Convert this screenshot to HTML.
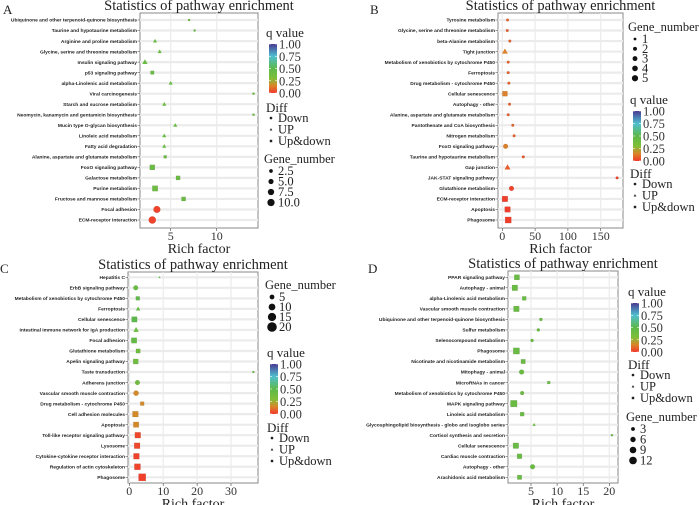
<!DOCTYPE html>
<html><head><meta charset="utf-8"><style>
html,body{margin:0;padding:0;background:#fff;width:700px;height:505px;overflow:hidden}
svg text{font-family:"Liberation Serif",serif}
.yl{font-family:"Liberation Sans",sans-serif;font-weight:bold;font-size:4.9px;fill:#222}
</style></head><body>
<svg id="chart" width="700" height="505" viewBox="0 0 700 505">
<defs>
<linearGradient id="qgrad" x1="0" y1="1" x2="0" y2="0">
<stop offset="0" stop-color="#f2392c"/><stop offset="0.15" stop-color="#d9862a"/><stop offset="0.3" stop-color="#7fbf3a"/><stop offset="0.5" stop-color="#5cb84a"/><stop offset="0.75" stop-color="#4fc0cf"/><stop offset="1" stop-color="#4a3a92"/>
</linearGradient>
</defs>
</svg>
<script>
// Panel A data
const aNames=["Ubiquinone and other terpenoid-quinone biosynthesis","Taurine and hypotaurine metabolism","Arginine and proline metabolism","Glycine, serine and threonine metabolism","Insulin signaling pathway","p53 signaling pathway","alpha-Linolenic acid metabolism","Viral carcinogenesis","Starch and sucrose metabolism","Neomycin, kanamycin and gentamicin biosynthesis","Mucin type O-glycan biosynthesis","Linoleic acid metabolism","Fatty acid degradation","Alanine, aspartate and glutamate metabolism","FoxO signaling pathway","Galactose metabolism","Purine metabolism","Fructose and mannose metabolism","Focal adhesion","ECM-receptor interaction"];
const aRich=[7.0,7.6,3.3,3.8,2.2,3.0,5.0,14.0,4.3,14.0,5.5,4.3,4.3,4.4,3.0,5.8,3.3,6.4,3.5,3.0];
const aGenes=[1,1,3,3,5,3,3,1,3,1,3,3,3,2,6,4,7,4,9,10];
const aQ=[0.4,0.4,0.42,0.42,0.42,0.42,0.42,0.4,0.42,0.4,0.42,0.42,0.42,0.42,0.42,0.42,0.4,0.42,0.02,0.02];
const aDiff=["D","D","U","U","U","B","U","D","U","D","U","U","U","B","B","B","B","B","D","D"];
const aTicks=[5,10];
const aGeneLegend=["2.5","5.0","7.5","10.0"];
// Panel B data
const bNames=["Tyrosine metabolism","Glycine, serine and threonine metabolism","beta-Alanine metabolism","Tight junction","Metabolism of xenobiotics by cytochrome P450","Ferroptosis","Drug metabolism - cytochrome P450","Cellular senescence","Autophagy - other","Alanine, aspartate and glutamate metabolism","Pantothenate and CoA biosynthesis","Nitrogen metabolism","FoxO signaling pathway","Taurine and hypotaurine metabolism","Gap junction","JAK-STAT signaling pathway","Glutathione metabolism","ECM-receptor interaction","Apoptosis","Phagosome"];
const bRich=[8,7.6,11.5,4,9,9,10,4,11,9,16,18,5,32,8,175,14,4,8,9];
const bGenes=[1,1,1,4,1,1,1,4,1,1,1,1,3,1,4,1,3,5,5,6];
const bQ=[0.08,0.08,0.08,0.14,0.08,0.08,0.08,0.14,0.08,0.08,0.08,0.08,0.14,0.05,0.07,0.02,0.02,0.01,0.01,0.01];
const bDiff=["D","D","D","U","D","D","D","B","D","D","D","D","D","D","U","D","D","B","B","B"];
const bTicks=[0,50,100,150];
const bGeneLegend=["1","2","3","4","5"];
// Panel C data
const cNames=["Hepatitis C","ErbB signaling pathway","Metabolism of xenobiotics by cytochrome P450","Ferroptosis","Cellular senescence","Intestinal immune network for IgA production","Focal adhesion","Glutathione metabolism","Apelin signaling pathway","Taste transduction","Adherens junction","Vascular smooth muscle contraction","Drug metabolism - cytochrome P450","Cell adhesion molecules","Apoptosis","Toll-like receptor signaling pathway","Lysosome","Cytokine-cytokine receptor interaction","Regulation of actin cytoskeleton","Phagosome"];
const cRich=[8.9,1.9,2.5,2.6,1.5,2.0,1.4,2.6,1.9,36.6,2.4,2.0,3.8,1.8,2.0,2.5,2.3,2.1,2.4,3.8];
const cGenes=[1,5,4,4,8,6,8,5,7,1,5,6,4,9,8,9,9,9,10,14];
const cQ=[0.45,0.42,0.48,0.45,0.5,0.4,0.45,0.38,0.38,0.4,0.38,0.16,0.16,0.16,0.16,0.03,0.03,0.02,0.02,0.01];
const cDiff=["U","D","B","U","B","U","B","B","B","D","D","D","B","B","B","B","B","B","B","B"];
const cTicks=[0,10,20,30];
const cGeneLegend=["5","10","15","20"];
// Panel D data
const dNames=["PPAR signaling pathway","Autophagy - animal","alpha-Linolenic acid metabolism","Vascular smooth muscle contraction","Ubiquinone and other terpenoid-quinone biosynthesis","Sulfur metabolism","Selenocompound metabolism","Phagosome","Nicotinate and nicotinamide metabolism","Mitophagy - animal","MicroRNAs in cancer","Metabolism of xenobiotics by cytochrome P450","MAPK signaling pathway","Linoleic acid metabolism","Glycosphingolipid biosynthesis - globo and isoglobo series","Cortisol synthesis and secretion","Cellular senescence","Cardiac muscle contraction","Autophagy - other","Arachidonic acid metabolism"];
const dRich=[2.3,1.9,3.7,2.2,6.9,6.4,5.2,2.2,3.5,3.2,8.4,3.3,1.7,3.3,5.6,20.5,2.1,2.8,5.3,2.8];
const dGenes=[7,8,4,8,2,2,2,10,5,5,2,3,11,4,2,1,8,6,5,5];
const dQ=[0.42,0.42,0.42,0.42,0.42,0.42,0.42,0.42,0.42,0.42,0.42,0.42,0.42,0.42,0.42,0.42,0.42,0.42,0.42,0.42];
const dDiff=["B","B","B","B","D","D","D","B","B","D","B","D","B","B","U","D","B","B","D","B"];
const dTicks=[5,10,15,20];
const dGeneLegend=["3","6","9","12"];

const NS="http://www.w3.org/2000/svg";
const svg=document.getElementById('chart');
function mk(tag,attrs,parent,txt){const e=document.createElementNS(NS,tag);for(const k in attrs)e.setAttribute(k,attrs[k]);if(txt!==undefined)e.textContent=txt;(parent||svg).appendChild(e);return e;}
const qStops=[[0,[242,57,44]],[0.15,[217,134,42]],[0.3,[127,191,58]],[0.5,[92,184,74]],[0.75,[79,192,207]],[1,[74,58,146]]];
function qColor(q){for(let i=1;i<qStops.length;i++){if(q<=qStops[i][0]){const a=qStops[i-1],b=qStops[i];const t=(q-a[0])/(b[0]-a[0]);const c=a[1].map((v,j)=>Math.round(v+(b[1][j]-v)*t));return `rgb(${c})`;}}return 'rgb(74,58,146)';}
function marker(g,type,cx,cy,r,fill,name){
  let e;
  if(type==="D") e=mk('circle',{cx:cx,cy:cy,r:r,fill:fill,stroke:'rgba(0,0,0,0.15)','stroke-width':0.4},g);
  else if(type==="U") e=mk('polygon',{points:`${cx},${cy-r*1.1} ${cx-r*1.05},${cy+r*0.75} ${cx+r*1.05},${cy+r*0.75}`,fill:fill},g);
  else {const s=r*0.9;e=mk('rect',{x:cx-s,y:cy-s,width:2*s,height:2*s,fill:fill,stroke:'rgba(0,0,0,0.15)','stroke-width':0.4},g);}
  
  
  return e;
}
function panel(P){
  const g=mk('g',{});
  
  
  const xs=v=>P.px0+(v-P.v0)*(P.px1-P.px0)/(P.v1-P.v0);
  const n=P.names.length;
  const ys=i=>P.rowY0+i*(P.rowY1-P.rowY0)/(n-1);
  const rs=gn=>P.k*Math.sqrt(gn);
  const bg=mk('rect',{x:P.bx0,y:P.by0,width:P.bx1-P.bx0,height:P.by1-P.by0,fill:'#fff',stroke:'#888','stroke-width':1},g);
  
  
  for(let i=0;i<n;i++){const y=ys(i);mk('line',{x1:P.bx0,x2:P.bx1,y1:y,y2:y,stroke:'#ebebeb','stroke-width':2.2},g);}
  P.ticks.forEach((t,j)=>{const x=xs(t);mk('line',{x1:x,x2:x,y1:P.by0,y2:P.by1,stroke:'#ebebeb','stroke-width':1.2},g);
    mk('line',{x1:x,x2:x,y1:P.by1,y2:P.by1+3,stroke:'#444','stroke-width':0.6},g);
    const tl=mk('text',{x:x,y:P.by1+12,'font-size':12,'text-anchor':'middle',fill:'#333'},g,String(t));
    
    
  });
  for(let i=0;i<n;i++){const y=ys(i);
    mk('line',{x1:P.bx0-2.5,x2:P.bx0,y1:y,y2:y,stroke:'#444','stroke-width':0.5},g);
    const t=mk('text',{x:P.bx0-3,y:y+1.7,'text-anchor':'end',class:'yl'},g,P.names[i]);
    
    
    marker(g,P.diff[i],xs(P.rich[i]),y,rs(P.genes[i]),qColor(P.q[i]),'point-'+P.id);
  }
  const tt=mk('text',{x:(P.bx0+P.bx1)/2,y:P.by0-3,'font-size':14.5,'text-anchor':'middle',fill:'#222'},g,'Statistics of pathway enrichment');
  
  
  const xt=mk('text',{x:(P.bx0+P.bx1)/2,y:P.by1+25,'font-size':14,'text-anchor':'middle',fill:'#222'},g,'Rich factor');
  
  
  const pl=mk('text',{x:P.lab[0],y:P.lab[1],'font-size':13,fill:'#222'},g,P.id);
  
  
  const L=P.legX;
  const lq=P.qY;
  mk('text',{x:L,y:lq,'font-size':13,fill:'#222'},g,'q value');
  const bar=mk('rect',{x:L+3,y:lq+7,width:8,height:P.qH,fill:'url(#qgrad)'},g);
  
  
  ['1.00','0.75','0.50','0.25','0.00'].forEach((s,j)=>{const y=lq+7+j*P.qH/4;mk('line',{x1:L+3,x2:L+5,y1:y,y2:y,stroke:'#fff','stroke-width':0.6},g);mk('line',{x1:L+9,x2:L+11,y1:y,y2:y,stroke:'#fff','stroke-width':0.6},g);mk('text',{x:L+13,y:y+4.5,'font-size':12.5,fill:'#333'},g,s);});
  const dy=P.dY;
  mk('text',{x:L,y:dy,'font-size':13,fill:'#222'},g,'Diff');
  [['D','Down'],['U','UP'],['B','Up&down']].forEach((d,j)=>{const y=dy+10+j*(P.dStep);marker(g,d[0],L+5,y-4,1.3,'#222','legend-diff-'+d[1].toLowerCase().replace('&','-'));const t=mk('text',{x:L+12,y:y,'font-size':12.5,fill:'#222'},g,d[1]);});
  const gy=P.gY;
  mk('text',{x:L-2,y:gy,'font-size':12.5,fill:'#222'},g,'Gene_number');
  P.gLeg.forEach((v,j)=>{const y=gy+12+j*P.gStep;mk('circle',{cx:L+5,cy:y-4,r:rs(Number(v)),fill:'#111'},g);const t=mk('text',{x:L+12,y:y,'font-size':12.5,fill:'#222'},g,v);});
}
panel({id:'A',names:aNames,rich:aRich,genes:aGenes,q:aQ,diff:aDiff,ticks:aTicks,bx0:140,bx1:258,by0:13,by1:228,rowY0:20,rowY1:220,v0:5,v1:10,px0:170.7,px1:216.7,k:1.15,lab:[3,14],legX:266,qY:37,qH:49,dY:112,dStep:11.5,gY:163,gLeg:aGeneLegend,gStep:10.5});
panel({id:'B',names:bNames,rich:bRich,genes:bGenes,q:bQ,diff:bDiff,ticks:bTicks,bx0:498,bx1:623,by0:13,by1:228,rowY0:20,rowY1:220,v0:0,v1:150,px0:502.3,px1:600.7,k:1.4,lab:[370,14],legX:630,qY:104,qH:50,dY:178,dStep:11.5,gY:31,gLeg:bGeneLegend,gStep:9.8});
panel({id:'C',names:cNames,rich:cRich,genes:cGenes,q:cQ,diff:cDiff,ticks:cTicks,bx0:128,bx1:258,by0:272,by1:483,rowY0:277.3,rowY1:477.3,v0:0,v1:30,px0:129.3,px1:231,k:1.07,lab:[0,273],legX:267,qY:357,qH:50,dY:432,dStep:11.5,gY:289,gLeg:cGeneLegend,gStep:10});
panel({id:'D',names:dNames,rich:dRich,genes:dGenes,q:dQ,diff:dDiff,ticks:dTicks,bx0:508,bx1:618,by0:271,by1:483,rowY0:277.3,rowY1:477.3,v0:5,v1:20,px0:531,px1:609.3,k:1.1,lab:[368,273],legX:628,qY:296,qH:49,dY:369,dStep:11.5,gY:421,gLeg:dGeneLegend,gStep:10.5});
</script>
</body></html>
